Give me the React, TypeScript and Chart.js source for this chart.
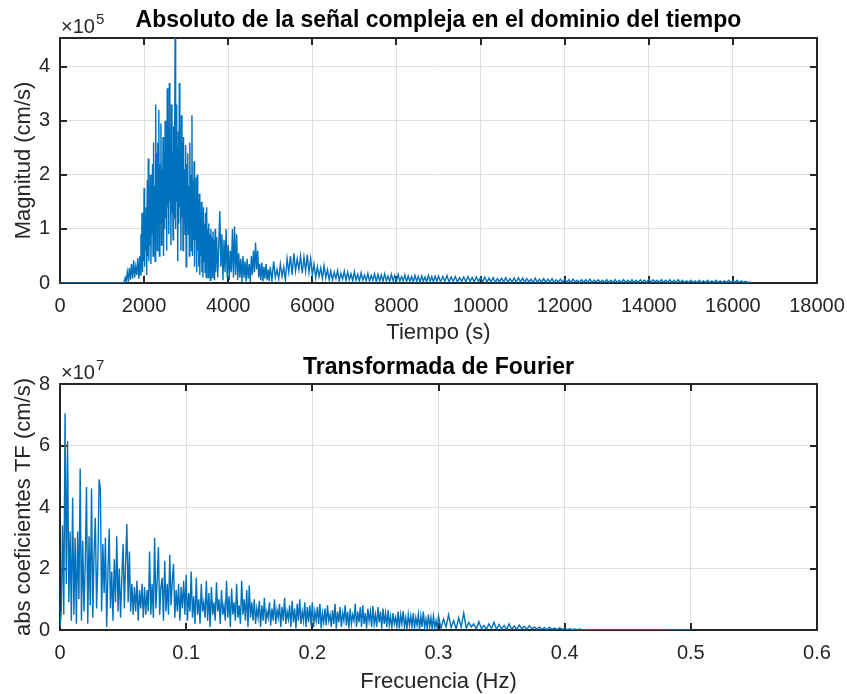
import React, { useEffect, useRef } from "react";
import { Chart, registerables } from "chart.js";
Chart.register(...registerables);

const LINE_COLOR = "#0072BD";
const AXIS_COLOR = "#262626";
const GRID_COLOR = "#dedede";
const FONT = "'Liberation Sans', Arial, Helvetica, sans-serif";

// ---------- Top subplot: |signal| vs time (values in units of 1e5 cm/s) ----------
const timeTitle = "Absoluto de la señal compleja en el dominio del tiempo";
const timeXLabel = "Tiempo (s)";
const timeYLabel = "Magnitud (cm/s)";
const timeExponent = "5";
const timeXTicks = [0, 2000, 4000, 6000, 8000, 10000, 12000, 14000, 16000, 18000];
const timeYTicks = [0, 1, 2, 3, 4];
const timeYMax = 4.53;

const timeQuietT = [0, 1475];
const timeQuietV = [0, 0];

const timeSeg1Start = 1500;
const timeSeg1Step = 25;
const timeSeg1Vals = [
  0, 0.02, 0.1, 0.02, 0.2, 0.04, 0.28, 0.06, 0.35, 0.08, 0.42, 0.1, 0.3, 0.15, 0.46, 0.08,
];

const timeSeg2Start = 1900;
const timeSeg2Step = 12.5;
const timeSeg2Vals = [
  0.5, 0.15, 0.9, 0.3, 1.3, 0.2, 1.0, 0.4,
  1.75, 0.3, 1.2, 0.6, 1.4, 0.15, 1.9, 0.5,
  2.3, 0.4, 1.6, 0.7, 2.0, 0.35, 1.5, 0.9,
  2.2, 0.5, 2.6, 0.8, 1.8, 0.4, 3.3, 1.0,
  2.4, 0.6, 2.6, 1.2, 3.2, 0.5, 2.2, 1.1,
  2.95, 0.7, 2.1, 1.3, 2.7, 0.5, 2.4, 1.0,
  3.0, 1.2, 2.5, 0.6, 3.6, 1.4, 2.2, 0.9,
  3.7, 1.5, 2.6, 0.7, 3.3, 1.3, 2.4, 0.8,
  2.9, 1.2, 2.6, 4.53, 1.0, 3.3, 1.5, 2.5,
  0.4, 2.8, 1.1, 3.7, 1.4, 2.3, 0.6, 3.1,
  1.2, 2.6, 0.6, 2.7, 1.1, 2.1, 0.9, 2.55,
  0.3, 2.2, 1.0, 2.4, 0.9, 1.8, 0.5, 2.6,
  1.0, 2.0, 0.6, 3.1, 0.5, 1.9, 0.8, 2.25,
  0.3, 1.7, 0.8, 1.95, 0.2, 2.0, 0.6, 1.5,
  0.3, 1.65, 0.15, 1.2, 0.5, 1.5, 0.2, 1.3,
  0.1, 1.4, 0.4, 1.1, 0.2, 1.3, 0.1, 1.4,
  0.4, 1.0, 0.1, 1.1, 0.3, 0.9, 0.05, 1.0,
  0.2, 0.85, 0.1, 0.95, 0.3, 0.8, 0.05, 1.0,
];

const timeSeg3Start = 3700;
const timeSeg3Step = 25;
const timeSeg3Vals = [
  0.2, 0.85, 0.1, 0.7, 1.33, 0.3, 0.9, 0.05,
  0.8, 0.2, 1.0, 0.1, 0.7, 0.05, 0.6, 0.2,
  1.0, 0.1, 1.05, 0.15, 0.9, 0.05, 0.55, 0.1,
  0.45, 0.02, 0.5, 0.1, 0.4, 0.03, 0.45, 0.08,
  0.35, 0.02, 0.5, 0.15, 0.6, 0.2, 0.75, 0.25,
  0.6, 0.1, 0.35, 0.05, 0.38, 0.03, 0.3, 0.08,
  0.35, 0.05, 0.25, 0.04,
];

const timeSeg4Start = 5000;
const timeSeg4Step = 40;
const timeSeg4Vals = [
  0.3, 0.05, 0.4, 0.1, 0.25, 0.08, 0.35, 0.12, 0.3, 0.05,
  0.45, 0.2, 0.5, 0.15, 0.55, 0.22, 0.45, 0.25, 0.5, 0.18,
  0.48, 0.22, 0.52, 0.2, 0.45, 0.15, 0.35, 0.1, 0.3, 0.12,
  0.28, 0.08, 0.32, 0.1, 0.25, 0.06, 0.22, 0.05, 0.2, 0.08,
  0.23, 0.04, 0.18, 0.07, 0.22, 0.05, 0.2, 0.06, 0.17, 0.04,
  0.21, 0.05, 0.16, 0.03, 0.19, 0.05, 0.15, 0.04, 0.18, 0.03,
  0.14, 0.05, 0.17, 0.02, 0.16, 0.04, 0.15, 0.03, 0.17, 0.04,
  0.13, 0.02, 0.16, 0.04, 0.14, 0.03, 0.16, 0.03, 0.12, 0.04,
  0.15, 0.02, 0.13, 0.03, 0.12, 0.02, 0.14, 0.03, 0.12, 0.02,
  0.13, 0.03, 0.11, 0.02, 0.14, 0.03, 0.12, 0.02, 0.13, 0.03,
];

const timeSeg5Start = 9000;
const timeSeg5Step = 50;
const timeSeg5Vals = [
  0.13, 0.02, 0.12, 0.03, 0.14, 0.02, 0.11, 0.03, 0.12, 0.02,
  0.1, 0.03, 0.11, 0.02, 0.12, 0.03, 0.1, 0.02, 0.11, 0.03,
  0.1, 0.02, 0.11, 0.01, 0.09, 0.02, 0.1, 0.01, 0.08, 0.02,
  0.09, 0.02, 0.1, 0.01, 0.08, 0.02, 0.09, 0.01, 0.1, 0.02,
  0.09, 0.01, 0.08, 0.02, 0.07, 0.01, 0.09, 0.01, 0.07, 0.02,
  0.08, 0.01, 0.07, 0.02, 0.08, 0.01, 0.06, 0.02, 0.07, 0.01,
  0.07, 0.01, 0.06, 0.01, 0.07, 0.02, 0.05, 0.01, 0.06, 0.01,
  0.06, 0.01, 0.07, 0.01, 0.05, 0.02, 0.06, 0.01, 0.05, 0.01,
  0.06, 0.01, 0.05, 0.01, 0.06, 0.01, 0.05, 0.01, 0.06, 0.01,
  0.05, 0.01, 0.06, 0.01, 0.05, 0.01, 0.06, 0.02, 0.05, 0.01,
  0.07, 0.01, 0.06, 0.02, 0.05, 0.01, 0.06, 0.01, 0.05, 0.01,
  0.06, 0.01, 0.05, 0.01, 0.06, 0.01, 0.05, 0.01, 0.04, 0.01,
  0.05, 0.01, 0.04, 0.01, 0.05, 0.01, 0.04, 0.01, 0.05, 0.01,
  0.04, 0.01, 0.05, 0.01, 0.04, 0.01, 0.04, 0.01, 0.05, 0.01,
  0.04, 0.01, 0.05, 0.01, 0.04, 0.01, 0.03, 0.01, 0.02,
];

// ---------- Bottom subplot: |FFT| vs frequency (values in units of 1e7 cm/s) ----------
const freqTitle = "Transformada de Fourier";
const freqXLabel = "Frecuencia (Hz)";
const freqYLabel = "abs coeficientes TF (cm/s)";
const freqExponent = "7";
const freqXTicks = [0, 0.1, 0.2, 0.3, 0.4, 0.5, 0.6];
const freqYTicks = [0, 2, 4, 6, 8];
const freqYMax = 8;

const freqSegAStart = 0;
const freqSegAStep = 0.001;
const freqSegAVals = [
  0.1, 0.6, 3.4, 0.5, 7.05, 1.5, 6.15, 0.9, 3.2, 0.3,
  4.3, 0.5, 3.0, 0.2, 3.2, 1.0, 5.25, 0.3, 2.9, 0.6,
  2.15, 4.65, 0.2, 3.05, 0.8, 4.6, 0.4, 2.5, 3.65, 0.7,
  2.2, 4.9, 4.6, 0.6, 2.8, 1.2, 3.0, 0.1, 1.9, 3.3,
  0.7, 1.9, 0.3, 2.3, 0.9, 3.05, 0.6, 2.0, 0.4, 1.7,
  2.8, 0.7, 2.2, 3.45, 0.9, 2.55, 0.6, 1.5, 0.5, 1.4,
  0.6, 1.6, 0.3, 1.3, 0.7, 1.5, 0.4, 1.4, 0.5, 1.3,
  0.6, 2.55, 0.5, 1.5, 0.4, 3.0, 0.7, 1.6, 2.7, 0.5,
  1.4, 1.7, 0.3, 2.25, 0.6, 1.5, 0.5, 2.45, 0.8, 1.6,
  2.15, 0.4, 1.3, 0.6, 1.5, 0.3, 1.4, 0.7, 1.6, 0.5,
];

const freqSegBStart = 0.1;
const freqSegBStep = 0.001;
const freqSegBVals = [
  1.8, 0.3, 1.2, 0.6, 1.9, 0.4, 1.1, 0.2, 1.7, 0.5,
  1.0, 0.2, 1.5, 0.6, 0.9, 0.4, 1.6, 0.3, 1.2, 0.1,
  1.4, 0.5, 0.9, 0.3, 1.55, 0.6, 1.0, 0.2, 1.3, 0.5,
  0.8, 0.3, 1.6, 0.4, 1.1, 0.1, 1.35, 0.5, 0.9, 0.3,
  1.5, 0.4, 0.8, 0.2, 1.6, 0.5, 1.0, 0.3, 1.3, 0.1,
  1.45, 0.4, 0.9, 0.3, 1.0, 0.2, 0.7, 0.4, 0.95, 0.1,
  0.8, 0.3, 1.05, 0.2, 0.6, 0.4, 0.9, 0.15, 0.7, 0.3,
  1.0, 0.2, 0.65, 0.4, 0.85, 0.1, 0.75, 0.3, 1.05, 0.2,
  0.6, 0.35, 0.8, 0.1, 0.95, 0.25, 0.7, 0.05, 0.85, 0.3,
  1.0, 0.2, 0.6, 0.3, 0.9, 0.1, 0.75, 0.25, 0.8, 0.15,
  0.9, 0.1, 0.6, 0.3, 0.75, 0.2, 0.85, 0.05, 0.55, 0.25,
  0.7, 0.15, 0.8, 0.3, 0.5, 0.1, 0.65, 0.2, 0.85, 0.05,
  0.6, 0.25, 0.75, 0.1, 0.55, 0.3, 0.8, 0.15, 0.6, 0.05,
  0.7, 0.2, 0.5, 0.3, 0.85, 0.1, 0.6, 0.25, 0.75, 0.1,
  0.8, 0.2, 0.55, 0.05, 0.7, 0.3, 0.6, 0.1, 0.78, 0.2,
  0.5, 0.1, 0.75, 0.25, 0.6, 0.05, 0.7, 0.2, 0.55, 0.1,
  0.65, 0.15, 0.45, 0.05, 0.55, 0.2, 0.4, 0.1, 0.6, 0.05,
  0.5, 0.2, 0.62, 0.1, 0.4, 0.05, 0.5, 0.15, 0.45, 0.1,
  0.55, 0.05, 0.4, 0.15, 0.5, 0.03, 0.45, 0.1, 0.6, 0.08,
  0.35, 0.05, 0.5, 0.1, 0.4, 0.03, 0.45, 0.08, 0.3, 0.05,
];

const freqSegCStart = 0.3;
const freqSegCStep = 0.002;
const freqSegCVals = [
  0.45, 0.05, 0.35, 0.1, 0.5, 0.08, 0.3, 0.03, 0.4, 0.1,
  0.55, 0.05, 0.25, 0.1, 0.2, 0.03, 0.27, 0.05, 0.15, 0.02,
  0.2, 0.05, 0.25, 0.02, 0.18, 0.04, 0.15, 0.02, 0.2, 0.03,
  0.13, 0.02, 0.16, 0.04, 0.12, 0.02, 0.14, 0.03, 0.1, 0.02,
  0.1, 0.02, 0.08, 0.01, 0.09, 0.02, 0.06, 0.01, 0.07, 0.02,
  0.05, 0.01, 0.04, 0.01, 0.03, 0.01, 0.03, 0.005, 0.02, 0.01,
  0.02, 0.005, 0.015, 0.005, 0.02, 0.005, 0.01, 0.005, 0.01, 0.005,
  0.01, 0.005, 0.01, 0.004, 0.008, 0.004, 0.01, 0.004, 0.008, 0.004,
  0.008, 0.004, 0.006, 0.004, 0.008, 0.003, 0.006, 0.004, 0.006, 0.003,
  0.006, 0.003, 0.005, 0.003, 0.005, 0.003, 0.004, 0.003, 0.004, 0.003, 0.003,
];

type Pt = { x: number; y: number };
function seg(start: number, step: number, vals: number[]): Pt[] {
  return vals.map((v, i) => ({ x: start + i * step, y: v }));
}
function pairs(xs: number[], ys: number[]): Pt[] {
  return xs.map((x, i) => ({ x, y: ys[i] }));
}

const timePoints: Pt[] = [
  ...pairs(timeQuietT, timeQuietV),
  ...seg(timeSeg1Start, timeSeg1Step, timeSeg1Vals),
  ...seg(timeSeg2Start, timeSeg2Step, timeSeg2Vals),
  ...seg(timeSeg3Start, timeSeg3Step, timeSeg3Vals),
  ...seg(timeSeg4Start, timeSeg4Step, timeSeg4Vals),
  ...seg(timeSeg5Start, timeSeg5Step, timeSeg5Vals),
];
const freqPoints: Pt[] = [
  ...seg(freqSegAStart, freqSegAStep, freqSegAVals),
  ...seg(freqSegBStart, freqSegBStep, freqSegBVals),
  ...seg(freqSegCStart, freqSegCStep, freqSegCVals),
];

type PanelCfg = {
  title: string;
  xLabel: string;
  yLabel: string;
  exponent: string;
  xTicks: number[];
  yTicks: number[];
  xMax: number;
  yMax: number;
  xStep: number;
  yStep: number;
  points: Pt[];
  padTop: number;
  xAxisHeight: number;
  yLabelX: number;
  titleBase: number;
  expBase: number;
  xLabelMid: number;
  fmt: (v: number) => string;
};

function framePlugin(cfg: PanelCfg) {
  return {
    id: "matlabFrame",
    beforeDatasetsDraw(chart: any) {
      const { ctx, chartArea: a, scales } = chart;
      ctx.save();
      ctx.strokeStyle = AXIS_COLOR;
      ctx.lineWidth = 2;
      ctx.beginPath();
      const tl = 7;
      for (const v of cfg.xTicks) {
        const px = Math.round(scales.x.getPixelForValue(v));
        ctx.moveTo(px, a.bottom);
        ctx.lineTo(px, a.bottom - tl);
        ctx.moveTo(px, a.top);
        ctx.lineTo(px, a.top + tl);
      }
      for (const v of cfg.yTicks) {
        const py = Math.round(scales.y.getPixelForValue(v));
        ctx.moveTo(a.left, py);
        ctx.lineTo(a.left + tl, py);
        ctx.moveTo(a.right, py);
        ctx.lineTo(a.right - tl, py);
      }
      ctx.stroke();
      ctx.strokeRect(a.left, a.top, a.right - a.left, a.bottom - a.top);
      ctx.restore();
    },
    afterDraw(chart: any) {
      const { ctx, chartArea: a } = chart;
      const cx = (a.left + a.right) / 2;
      ctx.save();
      ctx.fillStyle = "#000";
      ctx.font = `bold 23px ${FONT}`;
      ctx.textAlign = "center";
      ctx.textBaseline = "alphabetic";
      ctx.fillText(cfg.title, cx, cfg.titleBase);
      ctx.fillStyle = AXIS_COLOR;
      ctx.font = `20px ${FONT}`;
      ctx.textAlign = "left";
      ctx.fillText("\u00d710", a.left + 1, cfg.expBase);
      const w = ctx.measureText("\u00d710").width;
      ctx.font = `15px ${FONT}`;
      ctx.fillText(cfg.exponent, a.left + 1 + w + 1, cfg.expBase - 9);
      ctx.font = `22px ${FONT}`;
      ctx.textAlign = "center";
      ctx.textBaseline = "middle";
      ctx.fillText(cfg.xLabel, cx, cfg.xLabelMid);
      ctx.translate(cfg.yLabelX, (a.top + a.bottom) / 2);
      ctx.rotate(-Math.PI / 2);
      ctx.fillText(cfg.yLabel, 0, 0);
      ctx.restore();
    },
  };
}

function Panel({ cfg, top }: { cfg: PanelCfg; top: number }) {
  const ref = useRef<HTMLCanvasElement | null>(null);
  useEffect(() => {
    if (!ref.current) return;
    const chart = new Chart(ref.current, {
      type: "line",
      data: {
        datasets: [
          {
            data: cfg.points,
            borderColor: LINE_COLOR,
            borderWidth: 1.4,
            pointRadius: 0,
            tension: 0,
            fill: false,
          },
        ],
      },
      options: {
        responsive: false,
        animation: false,
        events: [],
        parsing: false,
        normalized: true,
        layout: { padding: { left: 0, right: 30, top: cfg.padTop, bottom: 0 } },
        plugins: { legend: { display: false }, tooltip: { enabled: false }, title: { display: false } },
        scales: {
          x: {
            type: "linear",
            min: 0,
            max: cfg.xMax,
            border: { display: false },
            grid: { color: GRID_COLOR, lineWidth: 1, drawTicks: false },
            ticks: {
              stepSize: cfg.xStep,
              includeBounds: false,
              padding: 11,
              color: AXIS_COLOR,
              font: { family: FONT, size: 20 },
              maxRotation: 0,
              autoSkip: false,
              callback: (v: any) => cfg.fmt(Number(v)),
            },
            afterFit: (s: any) => {
              s.height = cfg.xAxisHeight;
              s.paddingLeft = 0;
              s.paddingRight = 0;
            },
          },
          y: {
            type: "linear",
            min: 0,
            max: cfg.yMax,
            border: { display: false },
            grid: { color: GRID_COLOR, lineWidth: 1, drawTicks: false },
            ticks: {
              stepSize: cfg.yStep,
              includeBounds: false,
              padding: 10,
              color: AXIS_COLOR,
              font: { family: FONT, size: 20 },
              autoSkip: false,
              callback: (v: any) => cfg.fmt(Number(v)),
            },
            afterFit: (s: any) => {
              s.width = 60;
              s.paddingTop = 0;
              s.paddingBottom = 0;
            },
          },
        },
      },
      plugins: [framePlugin(cfg)],
    } as any);
    return () => chart.destroy();
  }, [cfg]);
  return (
    <canvas
      ref={ref}
      width={847}
      height={347}
      style={{ position: "absolute", left: 0, top, width: 847, height: 347, display: "block" }}
    />
  );
}

const topCfg: PanelCfg = {
  title: timeTitle,
  xLabel: timeXLabel,
  yLabel: timeYLabel,
  exponent: timeExponent,
  xTicks: timeXTicks,
  yTicks: timeYTicks,
  xMax: 18000,
  yMax: timeYMax,
  xStep: 2000,
  yStep: 1,
  points: timePoints,
  padTop: 38,
  xAxisHeight: 64,
  yLabelX: 24,
  titleBase: 27,
  expBase: 33,
  xLabelMid: 333,
  fmt: (v) => String(Math.round(v)),
};

const bottomCfg: PanelCfg = {
  title: freqTitle,
  xLabel: freqXLabel,
  yLabel: freqYLabel,
  exponent: freqExponent,
  xTicks: freqXTicks,
  yTicks: freqYTicks,
  xMax: 0.6,
  yMax: freqYMax,
  xStep: 0.1,
  yStep: 2,
  points: freqPoints,
  padTop: 37,
  xAxisHeight: 64,
  yLabelX: 24,
  titleBase: 27,
  expBase: 32,
  xLabelMid: 335,
  fmt: (v) => String(Number(v.toFixed(1))),
};

export default function App() {
  return (
    <div style={{ position: "absolute", left: 0, top: 0, width: 847, height: 694, background: "#fff" }}>
      <Panel cfg={topCfg} top={0} />
      <Panel cfg={bottomCfg} top={347} />
    </div>
  );
}
